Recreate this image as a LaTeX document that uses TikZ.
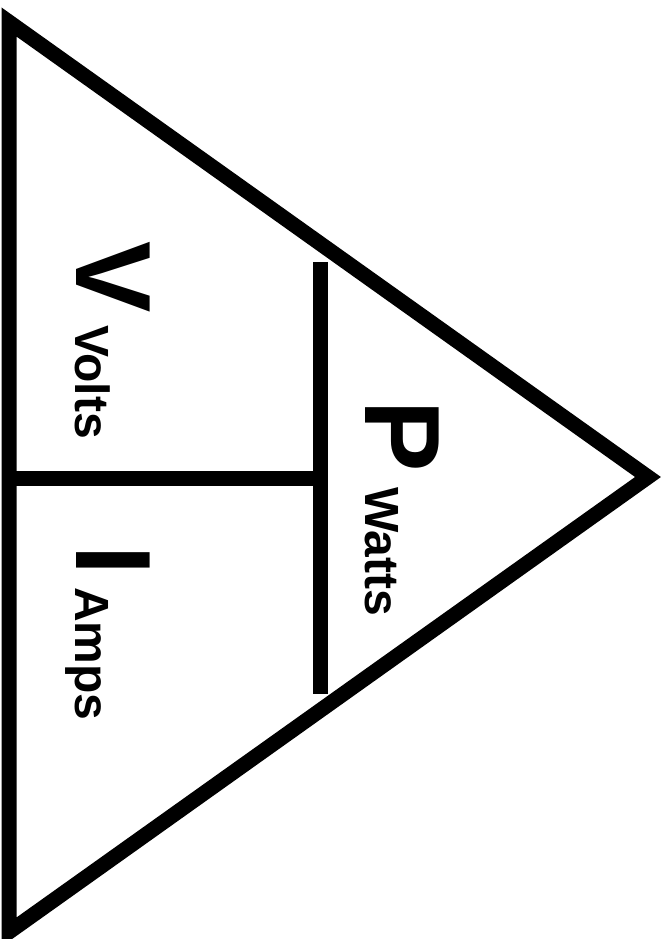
\documentclass[tikz,border=0pt]{standalone}
\usepackage{fontspec}
\setmainfont{Liberation Sans}
\begin{document}
\begin{tikzpicture}[x=1pt,y=-1pt,
  thick line/.style={line width=15pt, line join=miter, line cap=butt},
  bigletter/.style={font=\fontsize{107}{107}\selectfont\bfseries, rotate=-90, anchor=base west, inner sep=0pt},
  unitlabel/.style={font=\fontsize{48}{48}\selectfont\bfseries, rotate=-90, anchor=base west, inner sep=0pt}]
\useasboundingbox (0,0) rectangle (664,939);
\coordinate (top) at (9,22);
\coordinate (bot) at (9,932);
\coordinate (apex) at (648,477);
\coordinate (vtop) at (320,262);
\coordinate (vbot) at (320,694);
\coordinate (hleft) at (9,478);
\coordinate (hright) at (320,478);
\draw[thick line] (top) -- (apex) -- (bot) -- cycle;
\draw[thick line] (vtop) -- (vbot);
\draw[thick line] (hleft) -- (hright);
\node[bigletter] (V) at (76,241) {V};
\node[unitlabel] (volts) at (75,325) {Volts};
\node[bigletter] (I) at (76,545) {I};
\node[unitlabel] (amps) at (75,587) {Amps};
\node[bigletter] (P) at (365,400) {P};
\node[unitlabel] (watts) at (365,487) {Watts};
\end{tikzpicture}
\end{document}
